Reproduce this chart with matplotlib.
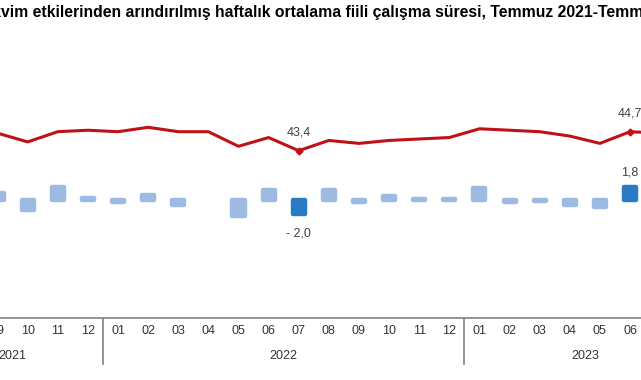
import numpy as np
import matplotlib
matplotlib.use("Agg")
import matplotlib.pyplot as plt

plt.rcParams["font.family"] = ["Liberation Sans", "DejaVu Sans"]

# visible window: 09/2021 .. 07/2023 (month index 0 = 07/2021)
month_idx = np.arange(2, 25)
month_labels = ["09", "10", "11", "12",
                "01", "02", "03", "04", "05", "06", "07", "08", "09", "10", "11", "12",
                "01", "02", "03", "04", "05", "06", "07"]
# weekly average actual working hours (seasonally and calendar adjusted)
hours = [44.6, 44.0, 44.7, 44.8,
         44.7, 45.0, 44.7, 44.7, 43.7, 44.3, 43.4, 44.1, 43.9, 44.1, 44.2, 44.3,
         44.9, 44.8, 44.7, 44.4, 43.9, 44.7, 44.6]
# monthly change (%), 09/2021 .. 06/2023
change_pct = [0.9, -1.4, 1.8, 0.2,
              -0.3, 0.6, -0.7, 0.0, -2.2, 1.3, -2.0, 1.4, -0.3, 0.5, 0.1, 0.1,
              1.6, -0.3, -0.2, -0.7, -1.0, 1.8]
highlight = [10, 21]  # 07/2022 and 06/2023
years = ["2021", "2022", "2023"]
year_pos = [2.5, 11.5, 21.5]
year_breaks = [5.5, 17.5]
title = ("Mevsim ve takvim etkilerinden arındırılmış haftalık ortalama fiili "
         "çalışma süresi, Temmuz 2021-Temmuz 2023")
hidden_prefix = "Mevsim ve tak"

W, H = 641, 380
XMIN, XMAX = 1.99, 23.364
left_px = -2.78  # axes starts just outside the picture (chart is cropped)
fig = plt.figure(figsize=(W / 100, H / 100), dpi=100)
ax = fig.add_axes([left_px / W, 62 / H, (W - left_px) / W, 318 / H])
ax2 = ax.twinx()

# bars (monthly change)
light, dark = "#9DBAE3", "#2A7BC6"
bx = month_idx[:len(change_pct)]
bv = np.array(change_pct)
cols = [dark if i in highlight else light for i in range(len(bv))]
keep = bv != 0
ax.bar(bx[keep], bv[keep], width=0.4,
       color=[c for c, k in zip(cols, keep) if k],
       edgecolor=[c for c, k in zip(cols, keep) if k],
       linewidth=3.2, joinstyle="round")
ax.set_ylim(-16.31, 27.55)

# line (hours)
ax2.plot(month_idx, hours, color="#BE1118", lw=2.2, solid_joinstyle="round",
         marker="D", ms=3.5, markevery=highlight, zorder=3)
ax2.set_ylim(31.94, 53.72)

txt = "#404040"
for i in highlight:
    h = hours[i]
    ax2.annotate(f"{h:.1f}".replace(".", ","), (month_idx[i], h),
                 xytext=(0, 13), textcoords="offset points",
                 ha="center", va="center", fontsize=9, color=txt)
    v = change_pct[i]
    s = f"{abs(v):.1f}".replace(".", ",")
    s = "- " + s if v < 0 else s
    off = -14 if v < 0 else 10
    ax.annotate(s, (bx[i], v), xytext=(0, off), textcoords="offset points",
                ha="center", va="center", fontsize=9, color=txt)

for a in (ax, ax2):
    for sp in ("top", "right", "left"):
        a.spines[sp].set_visible(False)
ax2.spines["bottom"].set_visible(False)
ax2.set_yticks([])
ax.set_yticks([])
ax.spines["bottom"].set_color("#8A8A8A")
ax.spines["bottom"].set_linewidth(1.3)
ax.set_xticks(month_idx, month_labels)
ax.tick_params(axis="x", length=0, pad=5, labelsize=9, labelcolor="#333333")

for b in year_breaks:
    ax.plot([b, b], [0, -46 / 318], transform=ax.get_xaxis_transform(),
            color="#8A8A8A", lw=1.3, clip_on=False)
for y, p in zip(years, year_pos):
    ax.text(p, -38 / 318, y, transform=ax.get_xaxis_transform(),
            ha="center", va="center", fontsize=9, color="#333333")
ax.set_xlim(XMIN, XMAX)

# title, cropped on the left like the reference
r = fig.canvas.get_renderer()
t0 = fig.text(0, 0, hidden_prefix, fontsize=11.3, fontweight="bold")
pw = t0.get_window_extent(r).width
t0.remove()
fig.text((-pw + 1) / W, 1 - 12 / H, title, fontsize=11.3, fontweight="bold",
         ha="left", va="center", color="black")

fig.savefig("out.png", dpi=100)
